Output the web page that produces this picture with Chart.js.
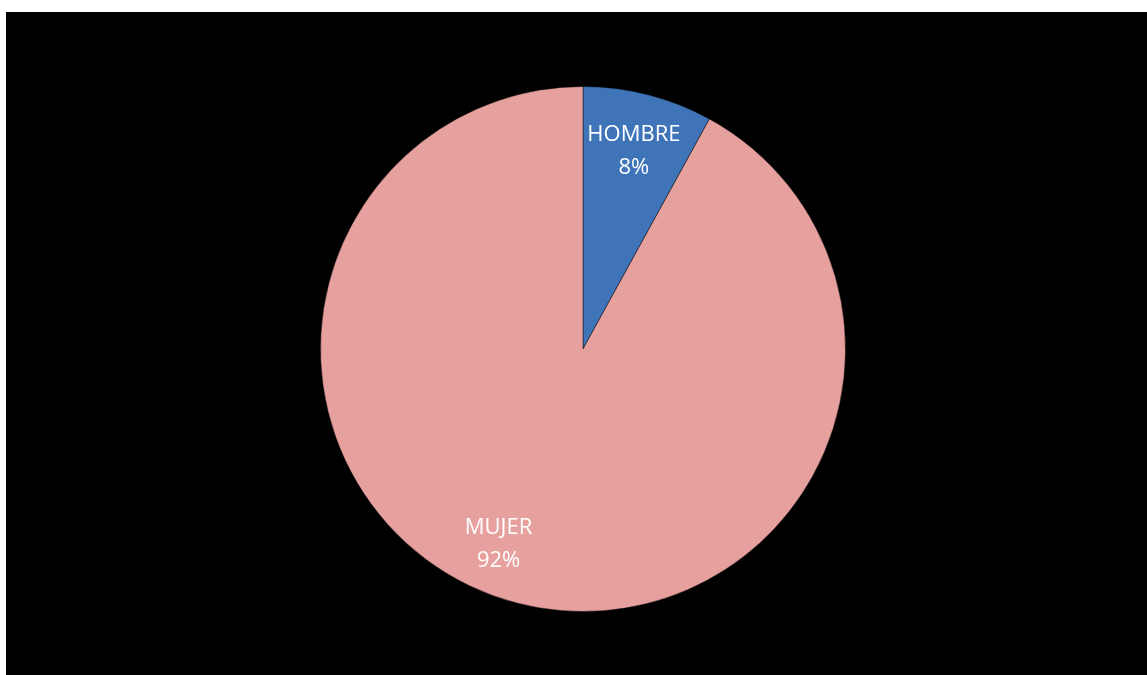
<!DOCTYPE html>
<html>
<head>
<meta charset="utf-8">
<script src="https://cdn.jsdelivr.net/npm/chart.js@4/dist/chart.umd.min.js"></script>
<style>
  html, body { margin: 0; padding: 0; background: #fff; width: 1147px; height: 675px; overflow: hidden; }
  #wrap { position: absolute; left: 6px; top: 12px; width: 1141px; height: 663px; background: #000; }
</style>
</head>
<body>
<div id="wrap"><canvas id="pie"></canvas></div>
<script>
// Pie: share of respondents by sex
const labels = ['HOMBRE', 'MUJER'];
const shares = [8, 92];
const colors = ['#3F74B9', '#E6A19F'];
const rims = ['#2C5A94', '#C98A88'];

// slice fill with a faint darker rim, like the bevelled original
function sliceFill(ctx) {
  const chart = ctx.chart;
  const arc = chart.getDatasetMeta(0).data[ctx.dataIndex];
  if (!arc || !arc.outerRadius) return colors[ctx.dataIndex];
  const g = chart.ctx.createRadialGradient(arc.x, arc.y, 0, arc.x, arc.y, arc.outerRadius);
  g.addColorStop(0, colors[ctx.dataIndex]);
  g.addColorStop(0.94, colors[ctx.dataIndex]);
  g.addColorStop(1, rims[ctx.dataIndex]);
  return g;
}

// draws "LABEL\nNN%" inside each slice
const sliceLabels = {
  id: 'sliceLabels',
  afterDatasetsDraw(chart, args, opts) {
    const { ctx } = chart;
    const meta = chart.getDatasetMeta(0);
    ctx.save();
    ctx.fillStyle = '#fff';
    ctx.font = '22px "Open Sans", sans-serif';
    ctx.textAlign = 'center';
    ctx.textBaseline = 'middle';
    meta.data.forEach((arc, i) => {
      const mid = (arc.startAngle + arc.endAngle) / 2 + (opts.nudge[i] || 0) * Math.PI / 180;
      const r = arc.outerRadius * opts.radius[i];
      const x = arc.x + Math.cos(mid) * r;
      const y = arc.y + Math.sin(mid) * r;
      ctx.fillText(labels[i], x, y - 16);
      ctx.fillText(shares[i] + '%', x, y + 17);
    });
    ctx.restore();
  }
};

new Chart(document.getElementById('pie'), {
  type: 'pie',
  data: {
    labels,
    datasets: [{
      data: shares,
      backgroundColor: sliceFill,
      borderColor: 'rgba(0,0,0,0.45)',
      borderWidth: 1
    }]
  },
  options: {
    responsive: true,
    maintainAspectRatio: false,
    animation: false,
    layout: { padding: { left: 13, right: 0, top: 74, bottom: 63 } },
    plugins: {
      legend: { display: false },
      tooltip: { enabled: false },
      sliceLabels: { radius: [0.78, 0.81], nudge: [0, 9] }
    }
  },
  plugins: [sliceLabels]
});
</script>
</body>
</html>
